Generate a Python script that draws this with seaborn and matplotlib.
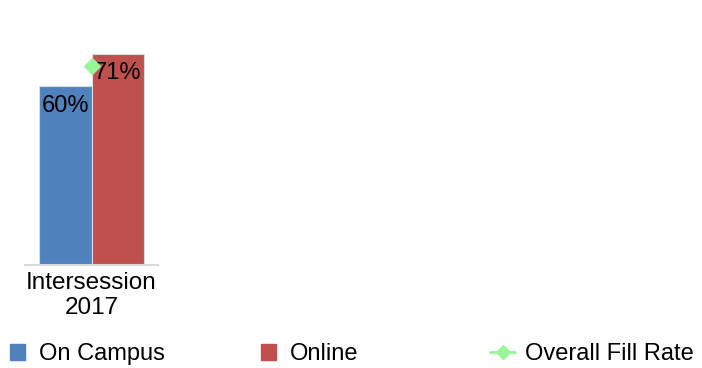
import matplotlib
matplotlib.use("Agg")
import matplotlib.pyplot as plt
import seaborn as sns
import pandas as pd
from matplotlib.lines import Line2D
from matplotlib.patches import Patch

categories = ["Intersession\n2017"]
series = ["On Campus", "Online"]
on_campus = [60]
online = [71]
overall_fill = [67]
colors = {"On Campus": "#4F81BD", "Online": "#C0504D"}
green = "#99F599"

sns.set_theme(style="white")
plt.rcParams["font.family"] = ["Liberation Sans", "DejaVu Sans"]
plt.rcParams["text.color"] = "black"
plt.rcParams["xtick.color"] = "black"

df = pd.DataFrame({
    "category": categories * 2,
    "series": ["On Campus"] * len(categories) + ["Online"] * len(categories),
    "value": on_campus + online,
})

W, H = 702, 368
fig = plt.figure(figsize=(W / 100, H / 100), dpi=100)
ax = fig.add_axes([25 / W, (H - 265) / H, 133 / W, 265 / H])

sns.barplot(data=df, x="category", y="value", hue="series", palette=colors,
            width=0.79, ax=ax, legend=False, saturation=1,
            edgecolor="#DDDDDD", linewidth=0.8)
sns.scatterplot(x=[0] * len(overall_fill), y=overall_fill, marker="D", s=70,
                color=green, edgecolor=green, ax=ax, zorder=5, legend=False)

for container in ax.containers:
    ax.bar_label(container, labels=[f"{v:.0f}%" for v in container.datavalues],
                 label_type="edge", padding=-22, fontsize=17, color="black")

ax.set_xlim(-0.5, 0.5)
ax.set_ylim(0, 89)
ax.set_xlabel("")
ax.set_ylabel("")
ax.set_yticks([])
ax.tick_params(axis="x", length=0, labelsize=17.5, pad=5, labelcolor="black")
for s in ["top", "right", "left"]:
    ax.spines[s].set_visible(False)
ax.spines["bottom"].set_color("#D9D9D9")
ax.spines["bottom"].set_linewidth(1.5)

leg_kw = dict(frameon=False, fontsize=17, handlelength=0.64, handleheight=0.64,
              handletextpad=0.6, borderaxespad=0, borderpad=0, labelcolor="black")
ly = 1 - 354 / H
fig.legend(handles=[Patch(color=colors["On Campus"], label="On Campus")],
           loc="center left", bbox_to_anchor=(10 / W, ly), **leg_kw)
fig.legend(handles=[Patch(color=colors["Online"], label="Online")],
           loc="center left", bbox_to_anchor=(261 / W, ly), **leg_kw)
fig.legend(handles=[Line2D([0], [0], color=green, marker="D", markersize=7,
                           linewidth=2, label="Overall Fill Rate")],
           loc="center left", bbox_to_anchor=(490 / W, ly),
           **{**leg_kw, "handlelength": 1.06, "handletextpad": 0.42})

fig.savefig("out.png", dpi=100)
